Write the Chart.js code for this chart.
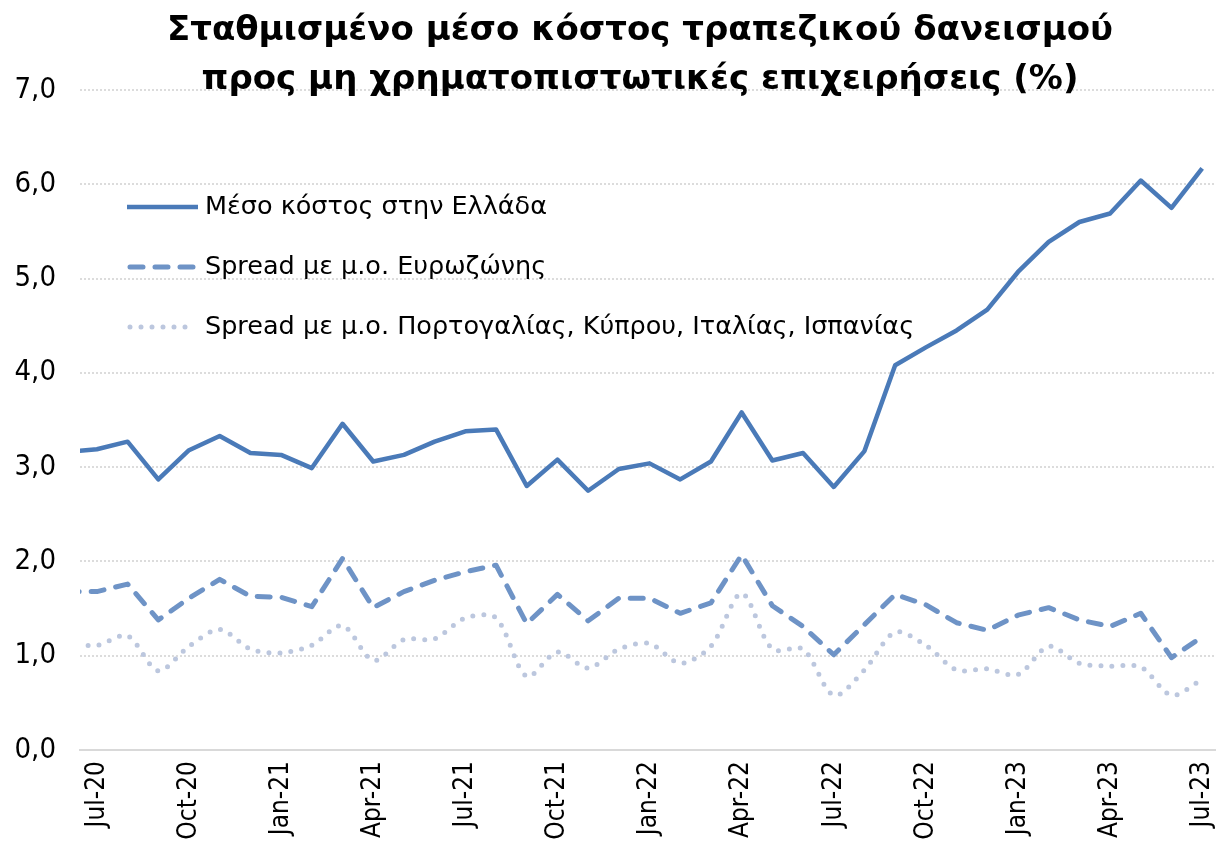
<!DOCTYPE html>
<html>
<head>
<meta charset="utf-8">
<script src="https://cdn.jsdelivr.net/npm/chart.js@4"></script>
<style>
    html, body { margin: 0; padding: 0; background: #ffffff; }
    #wrap { width: 1216px; height: 853px; position: relative; }
</style>
</head>
<body>
<div id="wrap"><canvas id="costChart" width="1216" height="853"></canvas></div>
<script>
// Data (Jun-20 .. Jul-23, the first month sits just outside the plot and is clipped)
const months = [
    'Jun-20', 'Jul-20', 'Aug-20', 'Sep-20', 'Oct-20', 'Nov-20', 'Dec-20',
    'Jan-21', 'Feb-21', 'Mar-21', 'Apr-21', 'May-21', 'Jun-21', 'Jul-21',
    'Aug-21', 'Sep-21', 'Oct-21', 'Nov-21', 'Dec-21',
    'Jan-22', 'Feb-22', 'Mar-22', 'Apr-22', 'May-22', 'Jun-22', 'Jul-22',
    'Aug-22', 'Sep-22', 'Oct-22', 'Nov-22', 'Dec-22',
    'Jan-23', 'Feb-23', 'Mar-23', 'Apr-23', 'May-23', 'Jun-23', 'Jul-23'
];

const avgCostGreece = [
    3.16, 3.19, 3.27, 2.87, 3.18, 3.33, 3.15,
    3.13, 2.99, 3.46, 3.06, 3.13, 3.27, 3.38,
    3.40, 2.80, 3.08, 2.75, 2.98,
    3.04, 2.87, 3.06, 3.58, 3.07, 3.15, 2.79,
    3.17, 4.08, 4.27, 4.45, 4.67,
    5.07, 5.39, 5.60, 5.69, 6.04, 5.75, 6.17
];

const spreadEurozone = [
    1.68, 1.68, 1.76, 1.38, 1.61, 1.81, 1.63,
    1.62, 1.52, 2.03, 1.51, 1.68, 1.80, 1.89,
    1.96, 1.34, 1.65, 1.37, 1.61,
    1.61, 1.45, 1.56, 2.07, 1.53, 1.31, 1.01,
    1.33, 1.65, 1.54, 1.35, 1.27,
    1.43, 1.51, 1.38, 1.31, 1.45, 0.98, 1.20
];

const spreadPeriphery = [
    1.13, 1.11, 1.21, 0.84, 1.10, 1.28, 1.07,
    1.03, 1.11, 1.32, 0.95, 1.17, 1.18, 1.40,
    1.40, 0.78, 1.04, 0.87, 1.07,
    1.13, 0.92, 1.10, 1.66, 1.07, 1.07, 0.58,
    0.85, 1.25, 1.11, 0.85, 0.86,
    0.80, 1.10, 0.92, 0.89, 0.88, 0.58, 0.75
];

const seriesLabels = [
    'Μέσο κόστος στην Ελλάδα',
    'Spread με μ.ο. Ευρωζώνης',
    'Spread με μ.ο. Πορτογαλίας, Κύπρου, Ιταλίας, Ισπανίας'
];

const titleLines = [
    'Σταθμισμένο μέσο κόστος τραπεζικού δανεισμού',
    'προς μη χρηματοπιστωτικές επιχειρήσεις (%)'
];

// every third month is labelled: Jul-20, Oct-20, ... Jul-23
const tickIndexes = [1, 4, 7, 10, 13, 16, 19, 22, 25, 28, 31, 34, 37];

const FONT = "'DejaVu Sans', sans-serif";
const FONT_COND = "'DejaVu Sans Condensed', 'DejaVu Sans', sans-serif";

function toPoints(values) {
    return values.map((v, i) => ({ x: i, y: v }));
}

// Title and in-plot legend drawn on top of the chart
const overlayPlugin = {
    id: 'overlay',
    afterDraw(chart) {
        const ctx = chart.ctx;
        ctx.save();

        // title
        ctx.fillStyle = '#000000';
        ctx.font = 'bold 34px ' + FONT;
        ctx.textAlign = 'center';
        ctx.textBaseline = 'middle';
        ctx.fillText(titleLines[0], 640, 31);
        ctx.fillText(titleLines[1], 640, 80);

        // legend
        const rowsY = [207, 267, 327];
        ctx.font = '25.5px ' + FONT;
        ctx.textAlign = 'left';
        chart.data.datasets.forEach((ds, i) => {
            const y = rowsY[i];
            ctx.beginPath();
            ctx.strokeStyle = ds.borderColor;
            ctx.lineWidth = ds.borderWidth;
            ctx.lineCap = ds.borderCapStyle || 'butt';
            ctx.setLineDash(ds.borderDash || []);
            ctx.moveTo(i === 0 ? 127 : 130, y);
            ctx.lineTo(i === 0 ? 198 : 196, y);
            ctx.stroke();
            ctx.setLineDash([]);
            ctx.fillStyle = '#000000';
            ctx.fillText(ds.label, 205, y);
        });
        ctx.restore();
    }
};

const costChart = new Chart(document.getElementById('costChart'), {
    type: 'line',
    data: {
        datasets: [
            {
                label: seriesLabels[0],
                data: toPoints(avgCostGreece),
                borderColor: '#4a7ab8',
                borderWidth: 4.5,
                borderJoinStyle: 'round',
                pointRadius: 0,
                tension: 0
            },
            {
                label: seriesLabels[1],
                data: toPoints(spreadEurozone),
                borderColor: '#6e93c6',
                borderWidth: 5,
                borderDash: [13, 12],
                borderCapStyle: 'round',
                borderJoinStyle: 'round',
                pointRadius: 0,
                tension: 0
            },
            {
                label: seriesLabels[2],
                data: toPoints(spreadPeriphery),
                borderColor: '#bcc7de',
                borderWidth: 5,
                borderDash: [0, 11],
                borderCapStyle: 'round',
                pointRadius: 0,
                tension: 0.3
            }
        ]
    },
    options: {
        responsive: false,
        animation: false,
        events: [],
        layout: { padding: { top: 90, right: 0, left: 0, bottom: 0 } },
        plugins: {
            legend: { display: false },
            title: { display: false },
            tooltip: { enabled: false }
        },
        scales: {
            x: {
                type: 'linear',
                min: 0.45,
                max: 37.45,
                afterBuildTicks: (axis) => {
                    axis.ticks = tickIndexes.map(v => ({ value: v }));
                },
                afterFit: (axis) => {
                    axis.height = 103;
                    axis.paddingLeft = 0;
                    axis.paddingRight = 0;
                },
                grid: { display: false, drawTicks: false },
                border: { display: true, color: '#d9d9d9', width: 2 },
                ticks: {
                    autoSkip: false,
                    minRotation: 90,
                    maxRotation: 90,
                    padding: 11,
                    color: '#000000',
                    font: { family: FONT_COND, size: 26 },
                    callback: (value) => months[value]
                }
            },
            y: {
                min: 0,
                max: 7,
                afterFit: (axis) => {
                    axis.width = 80;
                    axis.paddingTop = 0;
                    axis.paddingBottom = 0;
                },
                grid: {
                    color: '#dcdcdc',
                    lineWidth: 2,
                    drawTicks: false
                },
                border: { display: false, dash: [2, 2] },
                ticks: {
                    stepSize: 1,
                    padding: 24,
                    color: '#000000',
                    font: { family: FONT_COND, size: 29 },
                    callback: (value) => value.toFixed(1).replace('.', ',')
                }
            }
        }
    },
    plugins: [overlayPlugin]
});
</script>
</body>
</html>
